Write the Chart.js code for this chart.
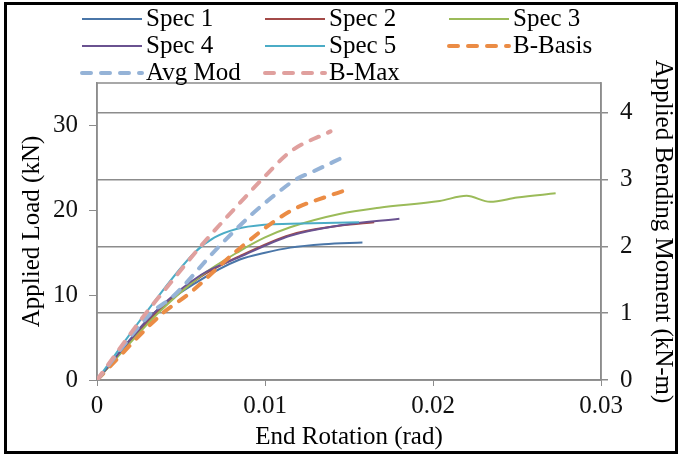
<!DOCTYPE html>
<html>
<head>
<meta charset="utf-8">
<script src="https://cdn.jsdelivr.net/npm/chart.js"></script>
<style>
    html, body { margin:0; padding:0; background:#fff; }
    #wrap { position:relative; width:681px; height:457px; }
</style>
</head>
<body>
<div id="wrap"><canvas id="myChart" width="681" height="457"></canvas></div>
<script>
// ============================================================
// DATA — end rotation (rad) vs applied load (kN)
// ============================================================

const seriesNames = ['Spec 1','Spec 2','Spec 3','Spec 4','Spec 5','B-Basis','Avg Mod','B-Max'];

const spec1  = [[0,0],[0.0034,7.9],[0.006,11.6],[0.0085,14.2],[0.0100,15.0],[0.0115,15.6],[0.0135,16.0],[0.0158,16.2]];
const spec2  = [[0,0],[0.0035,7.8],[0.0062,12.2],[0.0085,14.6],[0.0115,17.1],[0.0145,18.2],[0.0165,18.6]];
const spec3  = [[0,0],[0.0036,7.8],[0.0062,12.3],[0.0085,15.2],[0.0100,16.8],[0.0115,18.0],[0.0145,19.6],[0.0168,20.3],
                [0.0204,21.1],[0.0220,21.7],[0.0234,21.0],[0.0250,21.5],[0.0273,22.0]];
const spec4  = [[0,0],[0.0034,7.9],[0.0062,12.4],[0.0085,14.5],[0.0115,17.0],[0.0144,18.2],[0.0180,19.0]];
const spec5  = [[0,0],[0.0029,7.9],[0.0058,15.0],[0.0070,16.8],[0.0083,17.8],[0.0100,18.3],[0.0115,18.4],[0.0156,18.6]];
const bBasis = [[0,0],[0.0039,7.85],[0.0055,10.2],[0.0083,15.2],[0.0115,19.9],[0.0138,21.7],[0.0150,22.5]];
const avgMod = [[0,0],[0.0032,7.85],[0.0045,9.8],[0.0071,15.4],[0.0092,19.5],[0.0109,22.3],[0.0118,23.6],[0.0129,24.6],[0.0147,26.3]];
const bMax   = [[0,0],[0.0029,7.85],[0.0037,9.8],[0.0061,15.6],[0.0088,21.5],[0.0098,23.6],[0.0115,26.9],[0.0139,29.3]];

const xTicks      = [0, 0.01, 0.02, 0.03];
const loadTicks   = [0, 10, 20, 30];
const momentTicks = [0, 1, 2, 3, 4];

// moment axis is the load axis scaled by the lever arm
const loadMax   = 35;
const momentMax = 4.445;

const colors = ['#4a76a8','#a34a48','#9bbb59','#6a5290','#4bacc6','#eb8c45','#95b3d7','#e0a09e'];
const dashed = [false,false,false,false,false,true,true,true];

const FONT = '"Liberation Serif", "Times New Roman", serif';
const FS   = 25;

// ============================================================
// PLUGINS — plot border, frame, grid-style legend
// ============================================================

const plotBorder = {
    id: 'plotBorder',
    beforeDatasetsDraw(chart) {
        const {ctx, chartArea:a} = chart;
        ctx.save();
        ctx.strokeStyle = '#8c8c8c';
        ctx.lineWidth = 1.5;
        ctx.strokeRect(a.left, a.top, a.right - a.left, a.bottom - a.top);
        ctx.restore();
    },
    afterDraw(chart) {
        const ctx = chart.ctx;
        ctx.save();
        ctx.strokeStyle = '#000';
        ctx.lineWidth = 3;
        ctx.strokeRect(5.5, 3.5, 671, 449);
        ctx.restore();
    }
};

const gridLegend = {
    id: 'gridLegend',
    afterDraw(chart) {
        const ctx  = chart.ctx;
        const cols = [82, 265, 449];
        const rows = [19, 46, 73];
        ctx.save();
        ctx.font = FS + 'px ' + FONT;
        ctx.textBaseline = 'middle';
        ctx.fillStyle = '#000';
        chart.data.datasets.forEach((ds, i) => {
            const x = cols[i % 3];
            const y = rows[Math.floor(i / 3)];
            ctx.beginPath();
            ctx.strokeStyle = ds.borderColor;
            ctx.lineWidth   = ds.borderWidth;
            ctx.lineCap     = ds.borderDash.length ? 'round' : 'butt';
            ctx.setLineDash(ds.borderDash);
            ctx.moveTo(x, y);
            ctx.lineTo(x + 60, y);
            ctx.stroke();
            ctx.setLineDash([]);
            ctx.fillText(ds.label, x + 64, y);
        });
        ctx.restore();
    }
};

// ============================================================
// CHART
// ============================================================

const allSeries = [spec1, spec2, spec3, spec4, spec5, bBasis, avgMod, bMax];

const ctx = document.getElementById('myChart');

new Chart(ctx, {
    type: 'scatter',
    data: {
        datasets: allSeries.map((s, i) => ({
            label: seriesNames[i],
            data: s.map(p => ({x: p[0], y: p[1]})),
            showLine: true,
            borderColor: colors[i],
            backgroundColor: colors[i],
            borderWidth: dashed[i] ? 4 : 2,
            borderDash: dashed[i] ? [9, 10] : [],
            borderCapStyle: dashed[i] ? 'round' : 'butt',
            pointRadius: 0,
            cubicInterpolationMode: 'monotone',
            yAxisID: 'y',
            order: 8 - i
        }))
    },
    options: {
        responsive: false,
        animation: false,
        layout: { padding: { top: 83, left: 0, right: 0, bottom: 0 } },
        plugins: {
            legend:  { display: false },
            tooltip: { enabled: false }
        },
        scales: {
            x: {
                type: 'linear',
                min: 0, max: 0.03,
                afterFit: s => { s.height = 77; },
                afterBuildTicks: s => { s.ticks = xTicks.map(v => ({value: v})); },
                ticks: {
                    color: '#111',
                    font: { family: FONT, size: FS },
                    padding: 5,
                    callback: v => String(v)
                },
                grid: { drawOnChartArea: false, drawTicks: true, tickLength: 6, color: '#8c8c8c' },
                border: { color: '#8c8c8c', width: 1.5 },
                title: {
                    display: true,
                    text: 'End Rotation (rad)',
                    color: '#000',
                    font: { family: FONT, size: FS, lineHeight: 1.2 },
                    padding: { top: 0, bottom: 5 }
                }
            },
            y: {
                type: 'linear',
                position: 'left',
                min: 0, max: loadMax,
                afterFit: s => { s.width = 97; },
                afterBuildTicks: s => { s.ticks = loadTicks.map(v => ({value: v})); },
                ticks: {
                    color: '#111',
                    font: { family: FONT, size: FS },
                    padding: 11
                },
                grid: { drawOnChartArea: false, drawTicks: true, tickLength: 8, color: '#8c8c8c' },
                border: { color: '#8c8c8c', width: 1.5 },
                title: {
                    display: true,
                    text: 'Applied Load (kN)',
                    color: '#000',
                    font: { family: FONT, size: FS, lineHeight: 1.2 },
                    padding: { top: 17, bottom: 0 }
                }
            },
            y2: {
                type: 'linear',
                position: 'right',
                min: 0, max: momentMax,
                afterFit: s => { s.width = 80; },
                afterBuildTicks: s => { s.ticks = momentTicks.map(v => ({value: v})); },
                ticks: {
                    color: '#111',
                    font: { family: FONT, size: FS },
                    padding: 12
                },
                grid: { drawOnChartArea: true, drawTicks: true, tickLength: 7, color: '#8c8c8c', lineWidth: 1.5 },
                border: { color: '#8c8c8c', width: 1.5 },
                title: {
                    display: true,
                    text: 'Applied Bending Moment (kN-m)',
                    color: '#000',
                    font: { family: FONT, size: FS, lineHeight: 1 },
                    padding: { top: 6, bottom: 0 }
                }
            }
        }
    },
    plugins: [plotBorder, gridLegend]
});
</script>
</body>
</html>
